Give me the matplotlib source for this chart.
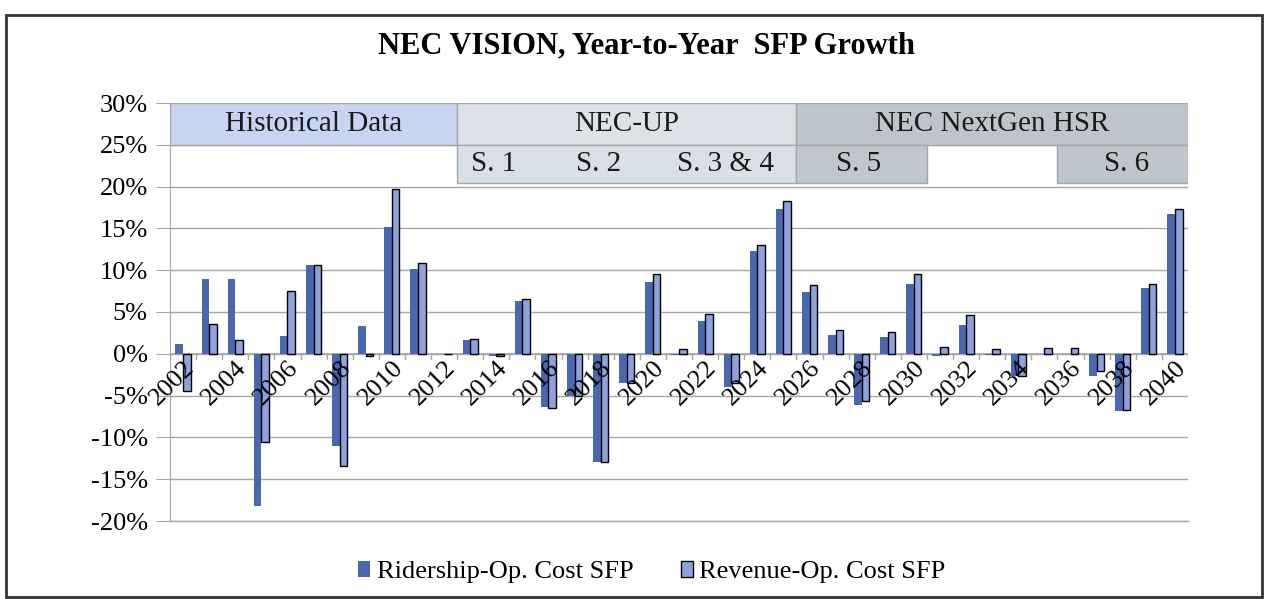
import numpy as np
import matplotlib.pyplot as plt
from matplotlib.patches import Rectangle

# year-to-year growth, percent
years = list(range(2002, 2041))
ridership = [1.2, 8.9, 8.9, -18.2, 2.1, 10.6, -11.0, 3.3, 15.2, 10.1,
             0.0, 1.6, -0.3, 6.3, -6.4, -5.1, -13.0, -3.5, 8.6, -0.2,
             3.9, -4.0, 12.3, 17.3, 7.4, 2.2, -6.1, 2.0, 8.4, -0.3,
             3.5, -0.2, -2.6, 0.0, 0.0, -2.6, -6.9, 7.9, 16.7]
revenue = [-4.4, 3.6, 1.7, -10.5, 7.5, 10.6, -13.4, -0.3, 19.7, 10.9,
           0.0, 1.8, -0.3, 6.5, -6.5, -5.1, -13.0, -3.5, 9.5, 0.6,
           4.8, -3.5, 13.0, 18.3, 8.2, 2.8, -5.7, 2.6, 9.6, 0.8,
           4.6, 0.6, -2.6, 0.7, 0.7, -2.1, -6.7, 8.3, 17.3]
tick_years = years[::2]
y_ticks = [-20, -15, -10, -5, 0, 5, 10, 15, 20, 25, 30]

# header table: (label, first year, last year, colour)
phases = [("Historical Data", 2002, 2012, "#c8d4f2"),
          ("NEC-UP", 2013, 2025, "#dde2e8"),
          ("NEC NextGen HSR", 2026, 2040, "#bec4cb")]
stage_cells = [(2013, 2025, "#d9dfe7"), (2026, 2030, "#c0c6cd"), (2036, 2040, "#bfc5cc")]
stage_labels = [("S. 1", 2013.9, "center"), ("S. 2", 2017.9, "center"),
                ("S. 3 & 4", 2022.8, "center"), ("S. 5", 2027.9, "center"),
                ("S. 6", 2039.0, "right")]

plt.rcParams['font.family'] = ['Liberation Serif', 'DejaVu Serif']

fig = plt.figure(figsize=(12.65, 5.99), dpi=100)
ax = fig.add_axes([170 / 1265, 1 - 521 / 599, 1018 / 1265, 418 / 599])

x = np.arange(len(years))
w = 0.29
grid_c = "#a6a6a6"
ax.bar(x - w / 2, ridership, w, color="#4a68b0", label="Ridership-Op. Cost SFP", zorder=3)
ax.bar(x + w / 2, revenue, w, color="#8fa2dc", edgecolor="black", linewidth=1.0,
       label="Revenue-Op. Cost SFP", zorder=3)

ax.set_xlim(-0.5, len(years) - 0.5)
ax.set_ylim(-20, 30)
ax.set_yticks(y_ticks)
ax.set_yticklabels([f"{t}%" for t in y_ticks], fontsize=19)
ax.yaxis.grid(True, color=grid_c, linewidth=1)
ax.set_axisbelow(True)
ax.tick_params(axis="y", length=10, color=grid_c, pad=6)
ax.axhline(-20, color=grid_c, linewidth=1, clip_on=False, zorder=1)

for s in ["top", "right", "bottom"]:
    ax.spines[s].set_visible(False)
ax.spines["left"].set_color(grid_c)

# category axis sits at zero
ax.axhline(0, color=grid_c, linewidth=1.2, zorder=2)
tick_idx = [years.index(y) for y in tick_years]
ax.set_xticks(tick_idx)
ax.set_xticklabels([str(y) for y in tick_years], rotation=45, ha="right",
                   rotation_mode="anchor", fontsize=19)
ax.tick_params(axis="x", length=0, pad=2)
for lab in ax.get_xticklabels():
    lab.set_y(0.4)  # labels hang from the zero line
ax.xaxis.set_zorder(5)  # year labels drawn over the bars
for b in np.arange(-0.5, len(years), 1):
    ax.plot([b, b], [-0.6, 0.0], color=grid_c, linewidth=1, zorder=2)

# header bands
row1 = (25, 30)
row2 = (20.4, 25)
for label, y0, y1, col in phases:
    a, b = years.index(y0) - 0.5, years.index(y1) + 0.5
    ax.add_patch(Rectangle((a, row1[0]), b - a, row1[1] - row1[0], facecolor=col,
                           edgecolor=grid_c, linewidth=1, zorder=2))
    ax.text((a + b) / 2, sum(row1) / 2, label, ha="center", va="center",
            fontsize=21, color="#1a1a1a", zorder=4)
for y0, y1, col in stage_cells:
    a, b = years.index(y0) - 0.5, years.index(y1) + 0.5
    ax.add_patch(Rectangle((a, row2[0]), b - a, row2[1] - row2[0], facecolor=col,
                           edgecolor=grid_c, linewidth=1, zorder=2))
for label, pos, ha in stage_labels:
    ax.text(pos - years[0], sum(row2) / 2, label, ha=ha, va="center",
            fontsize=21, color="#1a1a1a", zorder=4)

fig.text(647 / 1265, 1 - 46 / 599, "NEC VISION, Year-to-Year  SFP Growth",
         ha="center", va="center", fontsize=22, fontweight="bold")

fig.legend(loc="center", bbox_to_anchor=(652 / 1265, 1 - 572 / 599), ncol=2,
           frameon=False, fontsize=19, handlelength=0.45, handleheight=0.6,
           handletextpad=0.25, columnspacing=1.8)

fig.patches.append(Rectangle((6 / 1265, 2 / 599), 1256 / 1265, 582 / 599,
                             transform=fig.transFigure, fill=False,
                             edgecolor="#333333", linewidth=2))

fig.savefig("out.png", dpi=100)
